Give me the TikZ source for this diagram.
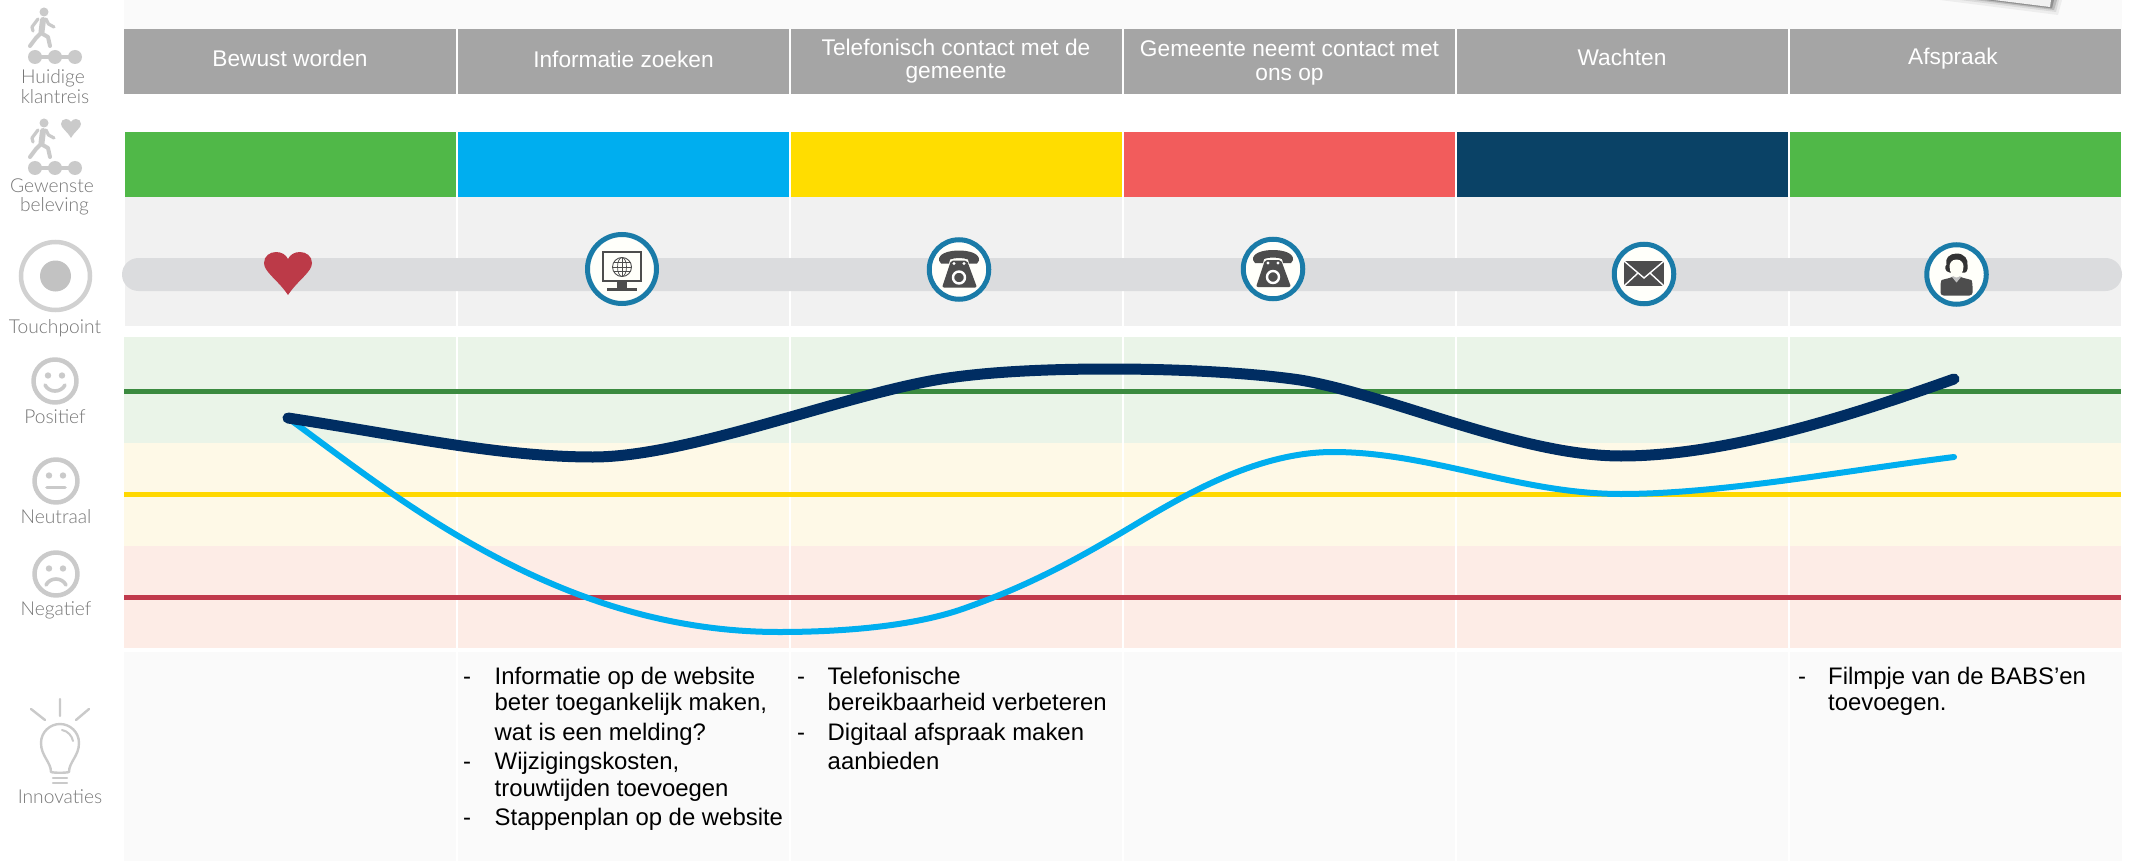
\documentclass[tikz,border=0pt]{standalone}
\usepackage{fontspec}
\setmainfont{Liberation Sans}
\newfontfamily\latofam{Lato Light}
\definecolor{hdrgrey}{HTML}{A5A5A5}
\definecolor{panel}{HTML}{FAFAFA}
\definecolor{tpbg}{HTML}{F1F1F1}
\definecolor{tpbar}{HTML}{DBDCDE}
\definecolor{cgreen}{HTML}{50B848}
\definecolor{cblue}{HTML}{00AEEF}
\definecolor{cyellow}{HTML}{FFDD00}
\definecolor{cred}{HTML}{F25C5C}
\definecolor{cnavy}{HTML}{0A4266}
\definecolor{bandg}{HTML}{EAF4E8}
\definecolor{bandy}{HTML}{FEF9E7}
\definecolor{bandr}{HTML}{FDECE6}
\definecolor{lineg}{HTML}{3B8A3F}
\definecolor{liney}{HTML}{FFD800}
\definecolor{liner}{HTML}{C0394B}
\definecolor{curvenavy}{HTML}{002D62}
\definecolor{ring}{HTML}{1A7BA8}
\definecolor{icondark}{HTML}{4D4D4D}
\definecolor{sidegrey}{HTML}{CACACA}
\definecolor{sidetext}{HTML}{777777}
\definecolor{heartred}{HTML}{BC3A48}
\tikzset{
  hdr/.style={anchor=base,inner sep=0pt,text=white,font=\fontsize{22.7}{27}\selectfont},
  bodyline/.style={anchor=base west,inner sep=0pt,text=black,font=\fontsize{23.9}{28}\selectfont},
  sidelabel/.style={anchor=center,inner sep=0pt,text=sidetext,font=\latofam\fontsize{19.2}{22}\selectfont},
  divider/.style={draw=white,line width=2.4pt},
  level/.style={line width=5pt},
  tpring/.style={circle,draw=ring,line width=5pt,fill=white!98!yellow,minimum size=#1,inner sep=0pt},
  sideicon/.style={draw=sidegrey,fill=none,line cap=round,line join=round},
  walkerline/.style={draw=sidegrey,line cap=round,line join=round,line width=3.2pt}
}
\begin{document}
\begin{tikzpicture}[x=1pt,y=-1pt]
\useasboundingbox (0,0) rectangle (2132,861);
\fill[white] (0,0) rectangle (2132,861);
% panels
\fill[panel] (124,0) rectangle (2122,29);
\fill[panel] (124,652) rectangle (2122,861);
% paper corner top right
\fill[black,opacity=.05] (1940,0) -- (2058,15) -- (2062,0) -- cycle;
\fill[black,opacity=.08] (1960,0) -- (2056,12) -- (2059,0) -- cycle;
\fill[black,opacity=.14] (1975,0) -- (2054,10) -- (2057,0) -- cycle;
\fill[black,opacity=.22] (1985,0) -- (2052,8.5) -- (2054,0) -- cycle;
\fill[tpbg] (1994,0) -- (2050,7) -- (2051,0) -- cycle;
% header row
\fill[hdrgrey] (124,29) rectangle (2121,94);
% colour row
\fill[cgreen] (125,132) rectangle (457,197);
\fill[cblue] (457,132) rectangle (790,197);
\fill[cyellow] (790,132) rectangle (1123,197);
\fill[cred] (1123,132) rectangle (1456,197);
\fill[cnavy] (1456,132) rectangle (1789,197);
\fill[cgreen] (1789,132) rectangle (2121,197);
% touchpoint row
\fill[tpbg] (125,197) rectangle (2121,326);
% emotion bands
\fill[bandg] (124,337) rectangle (2121,443);
\fill[bandy] (124,443) rectangle (2121,546);
\fill[bandr] (124,546) rectangle (2121,648);
% column dividers
\foreach \cx in {457,790,1123,1456,1789}{
  \draw[divider] (\cx,29) -- (\cx,94);
  \draw[divider] (\cx,132) -- (\cx,326);
  \draw[divider] (\cx,337) -- (\cx,648);
  \draw[divider] (\cx,652) -- (\cx,861);
}
% touchpoint bar
\fill[tpbar,rounded corners=16.5pt] (122,258) rectangle (2122,291);
% level lines
\draw[level,lineg] (124,391.5) -- (2121,391.5);
\draw[level,liney] (124,494.5) -- (2121,494.5);
\draw[level,liner] (124,597.5) -- (2121,597.5);
% curves
\draw[cblue,line width=6pt,line cap=round] (288,418)
  .. controls (400,500) and (560,632) .. (779,632)
  .. controls (850,632) and (920,625) .. (968,607)
  .. controls (1030,585) and (1075,560) .. (1121,533)
  .. controls (1170,504) and (1250,452) .. (1333,452)
  .. controls (1430,452) and (1520,494) .. (1621,494)
  .. controls (1720,494) and (1850,470) .. (1954,457);
\draw[curvenavy,line width=11pt,line cap=round] (288,418)
  .. controls (400,435) and (500,457) .. (593,457)
  .. controls (690,457) and (850,392) .. (948,378)
  .. controls (1000,370.6) and (1060,369) .. (1111,369)
  .. controls (1170,369) and (1245,372) .. (1300,380)
  .. controls (1390,395) and (1520,456) .. (1621,456)
  .. controls (1725,456) and (1850,416) .. (1954,379);
% header text
\node[hdr] (h1) at (290,67) {Bewust worden};
\node[hdr] (h2) at (623.5,68) {Informatie zoeken};
\node[hdr] (h3a) at (956,56) {Telefonisch contact met de};
\node[hdr] (h3b) at (956,79) {gemeente};
\node[hdr] (h4a) at (1289.5,57) {Gemeente neemt contact met};
\node[hdr] (h4b) at (1289.5,81) {ons op};
\node[hdr] (h5) at (1622,66) {Wachten};
\node[hdr] (h6) at (1953,65) {Afspraak};
% heart touchpoint
\fill[heartred] (288,295) .. controls (278,280) and (264,272) .. (264,263)
  .. controls (264,256) and (270,252) .. (276,252)
  .. controls (282,252) and (286,255) .. (288,259)
  .. controls (290,255) and (294,252) .. (300,252)
  .. controls (306,252) and (312,256) .. (312,263)
  .. controls (312,272) and (298,280) .. (288,295) -- cycle;
% monitor
\node[tpring=69pt] (tpweb) at (622,269) {};
\begin{scope}[shift={(622,269)}]
  \draw[icondark,line width=2.4pt] (-19,-17) rectangle (19,12);
  \fill[icondark] (-5,12) rectangle (5,19);
  \fill[icondark] (-15,19) rectangle (15,22);
  \draw[icondark,line width=.9pt] (0,-2) circle[radius=9.5];
  \draw[icondark,line width=.7pt] (0,-2) ellipse[x radius=4.5,y radius=9.5];
  \draw[icondark,line width=.7pt] (0,-11.5) -- (0,7.5) (-9.5,-2) -- (9.5,-2) (-8.5,-6.5) -- (8.5,-6.5) (-8.5,2.5) -- (8.5,2.5);
\end{scope}
% phones
\node[tpring=59.5pt] (tpphonea) at (959,269.5) {};
\begin{scope}[shift={(959,269.5)}]
  \fill[icondark,rounded corners=2pt] (-8,-9) -- (8,-9) -- (18,18) -- (-17,18) -- cycle;
  \fill[icondark] (-20,-9) .. controls (-21,-16) and (-10,-19) .. (0,-19) .. controls (10,-19) and (21,-16) .. (20,-9) -- (18,-6) -- (10,-6) -- (9,-10) .. controls (4,-12) and (-4,-12) .. (-9,-10) -- (-10,-6) -- (-18,-6) -- cycle;
  \fill[white] (-5,-6) circle[radius=1.6] (5,-6) circle[radius=1.6];
  \draw[white,line width=2.4pt,fill=icondark] (0,8) circle[radius=6];
\end{scope}
\node[tpring=59.5pt] (tpphoneb) at (1273,269) {};
\begin{scope}[shift={(1273,269)}]
  \fill[icondark,rounded corners=2pt] (-8,-9) -- (8,-9) -- (18,18) -- (-17,18) -- cycle;
  \fill[icondark] (-20,-9) .. controls (-21,-16) and (-10,-19) .. (0,-19) .. controls (10,-19) and (21,-16) .. (20,-9) -- (18,-6) -- (10,-6) -- (9,-10) .. controls (4,-12) and (-4,-12) .. (-9,-10) -- (-10,-6) -- (-18,-6) -- cycle;
  \fill[white] (-5,-6) circle[radius=1.6] (5,-6) circle[radius=1.6];
  \draw[white,line width=2.4pt,fill=icondark] (0,8) circle[radius=6];
\end{scope}
% envelope
\node[tpring=59.5pt] (tpmail) at (1644,274) {};
\begin{scope}[shift={(1644,274)}]
  \fill[icondark] (-20,-13) rectangle (20,12);
  \draw[white,line width=1.4pt] (-20,-13) -- (0,4) -- (20,-13) (-20,12) -- (-6,-1) (20,12) -- (6,-1);
\end{scope}
% person
\node[tpring=59.5pt] (tpperson) at (1956.5,274.5) {};
\begin{scope}[shift={(1956.5,274.5)}]
  \fill[icondark,rounded corners=3pt] (-16,21) -- (-16,9) .. controls (-15,5) and (-8,4) .. (-4,2) -- (4,2) .. controls (8,4) and (15,5) .. (16,9) -- (16,21) -- cycle;
  \fill[black!25] (-5,2) -- (5,2) -- (0,8) -- cycle;
  \fill[black!80] (0,-21) .. controls (8,-21) and (12,-15) .. (11,-9) .. controls (12,-4) and (9,-1) .. (7,-2) -- (-7,-2) .. controls (-12,-3) and (-12,-8) .. (-10,-10) .. controls (-12,-16) and (-7,-21) .. (0,-21) -- cycle;
  \fill[white!97!yellow] (0,-15) .. controls (5,-15) and (7,-11) .. (7,-8) .. controls (7,-2) and (3,3) .. (0,3) .. controls (-3,3) and (-7,-2) .. (-7,-8) .. controls (-7,-11) and (-5,-15) .. (0,-15) -- cycle;
\end{scope}
% body text
\node[bodyline] (b1d) at (463,684) {-};
\node[bodyline] (b1a) at (494.5,684) {Informatie op de website};
\node[bodyline] (b1b) at (494.5,710) {beter toegankelijk maken,};
\node[bodyline] (b1c) at (494.5,740) {wat is een melding?};
\node[bodyline] (b2d) at (463,769) {-};
\node[bodyline] (b2a) at (494.5,769) {Wijzigingskosten,};
\node[bodyline] (b2b) at (494.5,796) {trouwtijden toevoegen};
\node[bodyline] (b3d) at (463,825) {-};
\node[bodyline] (b3a) at (494.5,825) {Stappenplan op de website};
\node[bodyline] (c1d) at (797,684) {-};
\node[bodyline] (c1a) at (827.5,684) {Telefonische};
\node[bodyline] (c1b) at (827.5,710) {bereikbaarheid verbeteren};
\node[bodyline] (c2d) at (797,740) {-};
\node[bodyline] (c2a) at (827.5,740) {Digitaal afspraak maken};
\node[bodyline] (c2b) at (827.5,769) {aanbieden};
\node[bodyline] (d1d) at (1798,684) {-};
\node[bodyline] (d1a) at (1828,684) {Filmpje van de BABS’en};
\node[bodyline] (d1b) at (1828,710) {toevoegen.};
% side icon: walker 1
\begin{scope}[shift={(0,0)}]
  \fill[sidegrey] (44,12) circle[radius=4.5];
  \draw[walkerline,line width=6pt] (43,20) -- (41.5,32);
  \draw[walkerline] (38,19) -- (32,27) -- (33,31);
  \draw[walkerline] (46,19) -- (48.5,24) -- (54,27);
  \draw[walkerline,line width=4pt] (41,33) -- (48,37) -- (50,46);
  \draw[walkerline,line width=4pt] (41,33) -- (36,38) -- (30,46);
  \fill[sidegrey] (35,57) circle[radius=7] (55,57) circle[radius=7] (75,57) circle[radius=7];
  \fill[sidegrey] (35,55) rectangle (75,59);
\end{scope}
% side icon: walker 2 and heart
\begin{scope}[shift={(0,111)}]
  \fill[sidegrey] (44,12) circle[radius=4.5];
  \draw[walkerline,line width=6pt] (43,20) -- (41.5,32);
  \draw[walkerline] (38,19) -- (32,27) -- (33,31);
  \draw[walkerline] (46,19) -- (48.5,24) -- (54,27);
  \draw[walkerline,line width=4pt] (41,33) -- (48,37) -- (50,46);
  \draw[walkerline,line width=4pt] (41,33) -- (36,38) -- (30,46);
  \fill[sidegrey] (35,57) circle[radius=7] (55,57) circle[radius=7] (75,57) circle[radius=7];
  \fill[sidegrey] (35,55) rectangle (75,59);
\end{scope}
\fill[sidegrey] (71,138) .. controls (67,131) and (61,128) .. (61,124)
  .. controls (61,121) and (63,119) .. (66,119)
  .. controls (68,119) and (70,120) .. (71,122)
  .. controls (72,120) and (74,119) .. (76,119)
  .. controls (79,119) and (81,121) .. (81,124)
  .. controls (81,128) and (75,131) .. (71,138) -- cycle;
% side icon: touchpoint
\draw[black!18,line width=4.5pt] (55.5,276) ellipse[x radius=34.5,y radius=34];
\fill[black!24] (55.5,276) circle[radius=15.5];
% smileys
\draw[sideicon,line width=4.5pt] (55,381) circle[radius=21.5];
\fill[sidegrey] (48,375.5) circle[radius=3.2] (62,375.5) circle[radius=3.2];
\draw[sideicon,line width=3.6pt] (45,385) .. controls (49,393) and (61,393) .. (65,385);
\draw[sideicon,line width=4.5pt] (56,481) circle[radius=21.5];
\fill[sidegrey] (49,475.5) circle[radius=3.2] (63,475.5) circle[radius=3.2];
\draw[sideicon,line width=3.6pt] (47,487.5) -- (65,487.5);
\draw[sideicon,line width=4.5pt] (56,574) circle[radius=21.5];
\fill[sidegrey] (49,568.5) circle[radius=3.2] (63,568.5) circle[radius=3.2];
\draw[sideicon,line width=3.6pt] (46,585) .. controls (50,577) and (62,577) .. (66,585);
% bulb
\draw[sideicon,line width=2.4pt] (60,699) -- (60,716) (31,709) -- (45,720) (89,709) -- (76,720);
\draw[sideicon,line width=2.4pt] (51,772) .. controls (51,762) and (41,756) .. (41,743)
  .. controls (41,732) and (50,724) .. (60,724)
  .. controls (70,724) and (79,732) .. (79,743)
  .. controls (79,756) and (69,762) .. (69,772) .. controls (66,773) and (54,773) .. (51,772) -- cycle;
\draw[sideicon,line width=2pt] (62,730) .. controls (68,731) and (72,736) .. (73,741);
\draw[sideicon,line width=2.4pt] (53,778) -- (67,778) (53,783) -- (67,783);
% side labels
\node[sidelabel] (l1) at (53,78) {Huidige};
\node[sidelabel] (l2) at (55,96.5) {klantreis};
\node[sidelabel] (l3) at (52,186) {Gewenste};
\node[sidelabel] (l4) at (54.5,206.5) {beleving};
\node[sidelabel] (l5) at (55,328.5) {Touchpoint};
\node[sidelabel] (l6) at (55,417) {Positief};
\node[sidelabel] (l7) at (56,517) {Neutraal};
\node[sidelabel] (l8) at (56,610.5) {Negatief};
\node[sidelabel] (l9) at (60,797) {Innovaties};
\end{tikzpicture}
\end{document}
